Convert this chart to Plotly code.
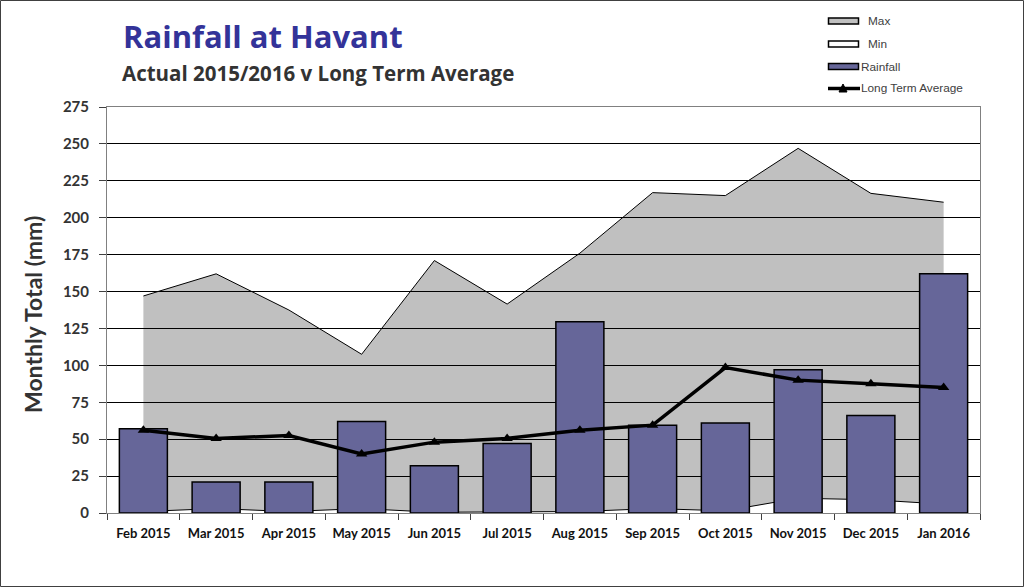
import plotly.graph_objects as go

months = ["Feb 2015", "Mar 2015", "Apr 2015", "May 2015", "Jun 2015", "Jul 2015",
          "Aug 2015", "Sep 2015", "Oct 2015", "Nov 2015", "Dec 2015", "Jan 2016"]
max_mm = [147, 162, 137.5, 107.5, 171, 141.5, 176, 217, 215, 247, 216.5, 210.5]
min_mm = [1, 3, 1, 3, 0.5, 1, 1, 3, 1.5, 10, 9, 6]
rain_mm = [57, 21, 21, 62, 32, 47, 129.5, 59.5, 61, 97, 66, 162]
lta_mm = [56, 50.5, 52.5, 40, 48, 50.5, 56, 59.5, 98.5, 90, 87.5, 85]

W, H = 1024, 587
L, R, T, B = 107, 44, 107, 74
pw, ph = W - L - R, H - T - B

def px_x(p):
    return (p - L) / pw

def px_y(p):
    return (H - B - p) / ph

GRAY = "#c0c0c0"
PURPLE = "#666699"

fig = go.Figure()

fig.add_trace(go.Scatter(x=months, y=max_mm, name="Max", mode="lines",
                         fill="tozeroy", fillcolor=GRAY,
                         line=dict(color="black", width=1),
                         xaxis="x", yaxis="y", showlegend=False))
fig.add_trace(go.Scatter(x=months, y=min_mm, name="Min", mode="lines",
                         fill="tozeroy", fillcolor="white",
                         line=dict(color="black", width=1),
                         xaxis="x", yaxis="y", showlegend=False))
fig.add_trace(go.Bar(x=months, y=rain_mm, name="Rainfall", width=0.66,
                     marker=dict(color=PURPLE, line=dict(color="black", width=1.5)),
                     xaxis="x2", yaxis="y2", showlegend=False))
fig.add_trace(go.Scatter(x=months, y=lta_mm, name="Long Term Average", mode="lines+markers",
                         line=dict(color="black", width=3.5),
                         marker=dict(symbol="triangle-up", size=10, color="black"),
                         xaxis="x2", yaxis="y2", showlegend=False))

# manual legend (pixel positions converted to paper coordinates)
legend_items = [
    ("Max", GRAY, 21, 866),
    ("Min", "white", 44, 866),
    ("Rainfall", PURPLE, 66.5, 859),
]
shapes = [
    dict(type="rect", xref="paper", yref="paper",
         x0=px_x(0.5), x1=px_x(W - 0.5), y0=px_y(H - 0.5), y1=px_y(0.5),
         line=dict(color="#404040", width=1), layer="above"),
]
annotations = [
    dict(text="<b>Rainfall at Havant</b>", xref="paper", yref="paper",
         x=px_x(121), y=px_y(13), xanchor="left", yanchor="top", showarrow=False,
         font=dict(family="Open Sans", size=31, color="#333399")),
    dict(text="<b>Actual 2015/2016 v Long Term Average</b>", xref="paper", yref="paper",
         x=px_x(120), y=px_y(57), xanchor="left", yanchor="top", showarrow=False,
         font=dict(family="Open Sans", size=20.5, color="#333")),
    dict(text="<b>Monthly Total (mm)</b>", xref="paper", yref="paper",
         x=px_x(33), y=px_y(315), xanchor="center", yanchor="middle", textangle=-90,
         showarrow=False, font=dict(family="Lato", size=23, color="#333")),
]
for name, col, cy, tx in legend_items:
    shapes.append(dict(type="rect", xref="paper", yref="paper",
                       x0=px_x(828.5), x1=px_x(858.5), y0=px_y(cy - 3), y1=px_y(cy + 3),
                       fillcolor=col, line=dict(color="black", width=1.5), layer="above"))
    annotations.append(dict(text=name, xref="paper", yref="paper", x=px_x(tx), y=px_y(cy),
                            xanchor="left", yanchor="middle", showarrow=False,
                            font=dict(family="Liberation Sans", size=11.8, color="#404040")))
cy = 88.5
shapes.append(dict(type="line", xref="paper", yref="paper",
                   x0=px_x(828), x1=px_x(860), y0=px_y(cy), y1=px_y(cy),
                   line=dict(color="black", width=3.5), layer="above"))
shapes.append(dict(type="path", xref="paper", yref="paper",
                   path=f"M {px_x(839)},{px_y(cy + 3.5)} L {px_x(847)},{px_y(cy + 3.5)} "
                        f"L {px_x(843)},{px_y(cy - 4.5)} Z",
                   fillcolor="black", line=dict(color="black", width=1), layer="above"))
annotations.append(dict(text="Long Term Average", xref="paper", yref="paper", x=px_x(859), y=px_y(cy),
                        xanchor="left", yanchor="middle", showarrow=False,
                        font=dict(family="Liberation Sans", size=11.8, color="#404040")))

fig.update_layout(
    width=W, height=H,
    margin=dict(l=L, r=R, t=T, b=B, autoexpand=False),
    paper_bgcolor="white",
    plot_bgcolor="rgba(0,0,0,0)",
    showlegend=False,
    xaxis=dict(domain=[0, 1], anchor="y", type="category", range=[-0.5, 11.5],
               visible=False),
    yaxis=dict(domain=[0, 1], anchor="x", range=[0, 275], visible=False),
    xaxis2=dict(domain=[0, 1], anchor="y2", type="category", range=[-0.5, 11.5],
                tickson="boundaries", ticks="outside", ticklen=6, tickcolor="#404040",
                ticklabelstandoff=8,
                showgrid=False, showline=True, linecolor="#808080", mirror=True,
                tickfont=dict(family="Lato", size=13, color="#111", weight="bold")),
    yaxis2=dict(domain=[0, 1], anchor="x2", range=[0, 275], dtick=25,
                ticks="outside", ticklen=7, tickcolor="#404040",
                ticklabelstandoff=7,
                showgrid=True, gridcolor="black", gridwidth=1,
                showline=True, linecolor="#808080", mirror=True, zeroline=False,
                tickfont=dict(family="Lato", size=15, color="#333", weight="bold")),
    annotations=annotations,
    shapes=shapes,
)

fig.write_html("out.html")
